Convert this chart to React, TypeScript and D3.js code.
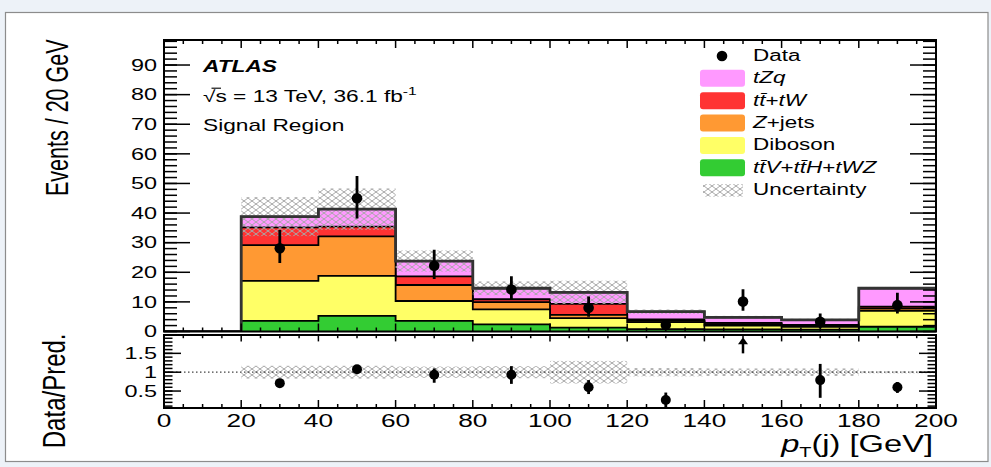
import * as d3 from 'd3';

// bins in p_T(j) [GeV]
const binEdges = [0, 20, 40, 60, 80, 100, 120, 140, 160, 180, 200];

// stacked backgrounds, per bin (bottom -> top)
const ttvValues = [0, 3.6, 5.3, 3.6, 2.4, 1.3, 0.8, 0.7, 0.6, 1.6];
const dibosonValues = [0, 13.5, 13.5, 6.7, 5.1, 3.2, 2.4, 1.3, 1.0, 5.4];
const zjetsValues = [0, 12.1, 13.3, 5.4, 2.4, 1.1, 0.4, 0.5, 0.3, 0.8];
const ttbarValues = [0, 6.0, 3.3, 2.9, 1.0, 3.7, 0.5, 0.4, 0.3, 0.6];
const tzqValues = [0, 3.6, 5.9, 5.2, 3.7, 3.9, 2.6, 1.9, 1.7, 6.2];
// relative uncertainty on the total prediction
const relUncertainty = [0, 0.17, 0.17, 0.15, 0.16, 0.3, 0.11, 0.1, 0.1, 0.03];

// data
const dataCenters = [30, 50, 70, 90, 110, 130, 150, 170, 190];
const dataValues = [28.1, 45.0, 22.2, 14.2, 8.0, 2.2, 10.1, 3.3, 8.9];
const dataLow = [23.1, 38.2, 17.7, 10.7, 5.0, 0.85, 7.0, 1.1, 6.1];
const dataHigh = [34.3, 52.5, 27.6, 18.7, 11.8, 3.9, 14.3, 6.1, 13.1];

// ratio panel
const ratioCenters = [30, 50, 70, 90, 110, 130, 170, 190];
const ratioValues = [0.71, 1.08, 0.93, 0.93, 0.6, 0.26, 0.79, 0.6];
const ratioLow = [0.63, 0.98, 0.72, 0.69, 0.42, 0.07, 0.32, 0.45];
const ratioHigh = [0.79, 1.18, 1.1, 1.16, 0.79, 0.46, 1.22, 0.74];
const arrowCenters = [150];
const arrowFrom = 1.5;
const arrowTo = 1.93;

const xTickLabels = ['0', '20', '40', '60', '80', '100', '120', '140', '160', '180', '200'];
const yTickLabels = ['0', '10', '20', '30', '40', '50', '60', '70', '80', '90'];
const ratioTickLabels = ['0.5', '1', '1.5'];

const components = [ttvValues, dibosonValues, zjetsValues, ttbarValues, tzqValues];
const colors = ['#33cc33', '#ffff66', '#ff9933', '#ff3333', '#ff99ff'];

const FONT = '"Liberation Sans", Arial, Helvetica, sans-serif';
const SX = 1.42; // the original is stretched horizontally

const x = d3.scaleLinear().domain([0, 200]).range([164, 936]);
const y = d3.scaleLinear().domain([0, 98.45]).range([331.5, 40]);
const r = d3.scaleLinear().domain([0.05, 1.987]).range([408, 335]);

type Pt = [number, number];

function stepPoints(vals: number[]): Pt[] {
    const pts: Pt[] = [[binEdges[0], 0]];
    vals.forEach((v, i) => {
        pts.push([binEdges[i], v]);
        pts.push([binEdges[i + 1], v]);
    });
    pts.push([binEdges[binEdges.length - 1], 0]);
    return pts;
}

function T(props: any) {
    const { x: tx, y: ty, size, anchor = 'start', sx = SX, rot = false, weight, italic, children } = props;
    return (
        <text
            transform={`translate(${tx},${ty}) scale(${sx},1)${rot ? ' rotate(-90)' : ''}`}
            fontSize={size}
            textAnchor={anchor}
            fontFamily={FONT}
            fontWeight={weight}
            fontStyle={italic ? 'italic' : undefined}
            fill="#000"
        >
            {children}
        </text>
    );
}

export default function App() {
    // cumulative stack
    const cumulative: number[][] = [];
    components.forEach((comp, k) => {
        cumulative.push(comp.map((v, i) => v + (k > 0 ? cumulative[k - 1][i] : 0)));
    });
    const total = cumulative[cumulative.length - 1];

    const area = d3.area<Pt>().x(d => x(d[0])).y0(y(0)).y1(d => y(d[1]));
    const line = d3.line<Pt>().x(d => x(d[0])).y(d => y(d[1]));

    const xMinor = d3.range(0, 201, 5);
    const xMajor = d3.range(0, 201, 20);
    const yMinor = d3.range(0, 99, 2);
    const yMajor = d3.range(0, 91, 10);
    const rMinor = d3.range(1, 20).map(i => i / 10);
    const rMajor = [0.5, 1, 1.5];

    const legendRows = [
        { color: colors[4], label: <tspan fontStyle="italic">tZq</tspan> },
        {
            color: colors[3],
            label: (
                <>
                    <tspan fontStyle="italic">{'tt\u0304'}</tspan>
                    <tspan>+</tspan>
                    <tspan fontStyle="italic">tW</tspan>
                </>
            ),
        },
        {
            color: colors[2],
            label: (
                <>
                    <tspan fontStyle="italic">Z</tspan>
                    <tspan>+jets</tspan>
                </>
            ),
        },
        { color: colors[1], label: <tspan>Diboson</tspan> },
        {
            color: colors[0],
            label: (
                <>
                    <tspan fontStyle="italic">{'tt\u0304V'}</tspan>
                    <tspan>+</tspan>
                    <tspan fontStyle="italic">{'tt\u0304H'}</tspan>
                    <tspan>+</tspan>
                    <tspan fontStyle="italic">tWZ</tspan>
                </>
            ),
        },
    ];
    const legendBase = 61;
    const legendStep = 22.35;

    return (
        <svg width={991} height={467} style={{ position: 'absolute', left: 0, top: 0 }}>
            <defs>
                <pattern id="hatch" width="8" height="6" patternUnits="userSpaceOnUse">
                    <path d="M-1,-0.75 L9,6.75 M-1,6.75 L9,-0.75" stroke="#a8a8a8" strokeWidth="1" fill="none" />
                </pattern>
                <clipPath id="mainClip">
                    <rect x={164} y={40} width={772} height={291.5} />
                </clipPath>
                <clipPath id="ratioClip">
                    <rect x={164} y={335} width={772} height={73} />
                </clipPath>
            </defs>

            {/* page background */}
            <rect x={0} y={0} width={991} height={467} fill="#edf2f8" />
            <rect x={5.5} y={12.5} width={982.5} height={449} fill="#fff" stroke="#8c8c8c" strokeWidth={1.2} />

            {/* stacked histograms */}
            <g clipPath="url(#mainClip)">
                {cumulative.slice().reverse().map((cum, k) => {
                    const idx = cumulative.length - 1 - k;
                    const pts = stepPoints(cum);
                    return (
                        <g key={idx}>
                            <path d={area(pts) || ''} fill={colors[idx]} />
                            <path d={line(pts) || ''} fill="none" stroke="#000" strokeWidth={1.8} />
                        </g>
                    );
                })}
                {/* uncertainty band */}
                {total.map((t, i) =>
                    t > 0 ? (
                        <rect
                            key={i}
                            x={x(binEdges[i])}
                            width={x(binEdges[i + 1]) - x(binEdges[i])}
                            y={y(t * (1 + relUncertainty[i]))}
                            height={y(t * (1 - relUncertainty[i])) - y(t * (1 + relUncertainty[i]))}
                            fill="url(#hatch)"
                        />
                    ) : null
                )}
                <path d={line(stepPoints(total)) || ''} fill="none" stroke="#333" strokeWidth={2.8} />

                {/* data */}
                {dataCenters.map((c, i) => (
                    <g key={i}>
                        <line x1={x(c)} x2={x(c)} y1={y(dataLow[i])} y2={y(dataHigh[i])} stroke="#000" strokeWidth={2.8} />
                        <circle cx={x(c)} cy={y(dataValues[i])} r={5.3} fill="#000" />
                    </g>
                ))}
            </g>

            {/* main frame and ticks */}
            <rect x={164} y={40} width={772} height={291.5} fill="none" stroke="#000" strokeWidth={2} />
            {yMinor.map(v => (
                <g key={'ym' + v}>
                    <line x1={164} x2={177} y1={y(v)} y2={y(v)} stroke="#000" strokeWidth={1.5} />
                    <line x1={936} x2={923} y1={y(v)} y2={y(v)} stroke="#000" strokeWidth={1.5} />
                </g>
            ))}
            {yMajor.map(v => (
                <g key={'yM' + v}>
                    <line x1={164} x2={190} y1={y(v)} y2={y(v)} stroke="#000" strokeWidth={1.5} />
                    <line x1={936} x2={910} y1={y(v)} y2={y(v)} stroke="#000" strokeWidth={1.5} />
                </g>
            ))}
            {xMinor.map(v => {
                const len = v % 20 === 0 ? 8 : 4;
                return (
                    <g key={'xm' + v}>
                        <line x1={x(v)} x2={x(v)} y1={40} y2={40 + len} stroke="#000" strokeWidth={1.5} />
                        <line x1={x(v)} x2={x(v)} y1={331.5} y2={331.5 - len} stroke="#000" strokeWidth={1.5} />
                        <line x1={x(v)} x2={x(v)} y1={335} y2={335 + len * 0.8} stroke="#000" strokeWidth={1.5} />
                        <line x1={x(v)} x2={x(v)} y1={408} y2={408 - len} stroke="#000" strokeWidth={1.5} />
                    </g>
                );
            })}
            {yMajor.map((v, i) => (
                <T key={'yl' + v} x={157} y={y(v) + 5.7} size={16.5} anchor="end">
                    {yTickLabels[i]}
                </T>
            ))}

            {/* ratio panel */}
            <g clipPath="url(#ratioClip)">
                {relUncertainty.map((u, i) =>
                    total[i] > 0 ? (
                        <rect
                            key={i}
                            x={x(binEdges[i])}
                            width={x(binEdges[i + 1]) - x(binEdges[i])}
                            y={r(1 + u)}
                            height={r(1 - u) - r(1 + u)}
                            fill="url(#hatch)"
                        />
                    ) : null
                )}
                <line x1={x(0)} x2={x(200)} y1={r(1)} y2={r(1)} stroke="#444" strokeWidth={1.2} strokeDasharray="1.5,2.5" />
                {ratioCenters.map((c, i) => (
                    <g key={i}>
                        <line x1={x(c)} x2={x(c)} y1={r(ratioLow[i])} y2={r(ratioHigh[i])} stroke="#000" strokeWidth={2.8} />
                        <circle cx={x(c)} cy={r(ratioValues[i])} r={5} fill="#000" />
                    </g>
                ))}
                {arrowCenters.map(c => (
                    <g key={c}>
                        <line x1={x(c)} x2={x(c)} y1={r(arrowFrom)} y2={r(arrowTo) + 6} stroke="#000" strokeWidth={2.5} />
                        <path
                            d={`M${x(c) - 5},${r(arrowTo) + 7} L${x(c)},${r(arrowTo)} L${x(c) + 5},${r(arrowTo) + 7} Z`}
                            fill="#000"
                        />
                    </g>
                ))}
            </g>
            <rect x={164} y={335} width={772} height={73} fill="none" stroke="#000" strokeWidth={2} />
            {rMinor.map(v => (
                <g key={'rm' + v}>
                    <line x1={164} x2={172.5} y1={r(v)} y2={r(v)} stroke="#000" strokeWidth={1.5} />
                    <line x1={936} x2={927.5} y1={r(v)} y2={r(v)} stroke="#000" strokeWidth={1.5} />
                </g>
            ))}
            {rMajor.map(v => (
                <g key={'rM' + v}>
                    <line x1={164} x2={181} y1={r(v)} y2={r(v)} stroke="#000" strokeWidth={1.5} />
                    <line x1={936} x2={919} y1={r(v)} y2={r(v)} stroke="#000" strokeWidth={1.5} />
                </g>
            ))}
            {rMajor.map((v, i) => (
                <T key={'rl' + v} x={157} y={r(v) + 5.7} size={16.5} anchor="end">
                    {ratioTickLabels[i]}
                </T>
            ))}

            {/* x tick labels */}
            {xMajor.map((v, i) => (
                <T key={'xl' + v} x={x(v)} y={427} size={18.5} anchor="middle">
                    {xTickLabels[i]}
                </T>
            ))}

            {/* axis titles */}
            <T x={933} y={452} size={23} anchor="end">
                <tspan fontStyle="italic">p</tspan>
                <tspan dy={5} fontSize={14}>T</tspan>
                <tspan dy={-5}>(j) [GeV]</tspan>
            </T>
            <T x={68} y={39.5} size={21.5} anchor="end" rot>
                Events / 20 GeV
            </T>
            <T x={65} y={333.5} size={24} anchor="end" rot sx={1.3}>
                Data/Pred.
            </T>

            {/* labels */}
            <T x={203} y={71.5} size={16} weight="bold" italic>
                ATLAS
            </T>
            <T x={203} y={101.5} size={16}>
                <tspan>{'\u221A'}</tspan>
                <tspan>s = 13 TeV, 36.1 fb</tspan>
                <tspan dy={-7} fontSize={11}>-1</tspan>
            </T>
            <line x1={211.5} x2={221} y1={88.2} y2={88.2} stroke="#000" strokeWidth={1.1} />
            <T x={203} y={130.5} size={16}>
                Signal Region
            </T>

            {/* legend */}
            <circle cx={722} cy={legendBase - 5} r={5.3} fill="#000" />
            <T x={753} y={legendBase} size={15.8}>
                Data
            </T>
            {legendRows.map((row, i) => {
                const base = legendBase + legendStep * (i + 1);
                return (
                    <g key={i}>
                        <rect x={700} y={base - 13.5} width={45} height={17} rx={3} fill={row.color} />
                        <T x={753} y={base} size={15.8}>
                            {row.label}
                        </T>
                    </g>
                );
            })}
            <rect x={703} y={legendBase + legendStep * 6 - 11} width={40} height={12.5} fill="url(#hatch)" />
            <T x={753} y={legendBase + legendStep * 6} size={15.8}>
                Uncertainty
            </T>
        </svg>
    );
}
